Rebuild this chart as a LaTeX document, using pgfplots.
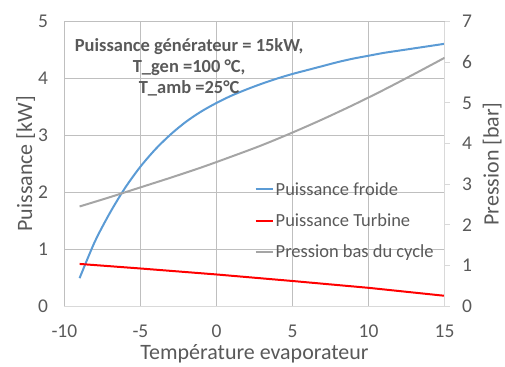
\documentclass[border={13pt 0pt 0pt 12pt}]{standalone}
\usepackage{pgfplots}
\pgfplotsset{compat=1.18}
\usepackage{fontspec}
\setmainfont{Carlito}
\definecolor{txt}{HTML}{595959}
\definecolor{grid}{HTML}{D9D9D9}
\definecolor{cblue}{HTML}{5B9BD5}
\definecolor{cred}{HTML}{FF0000}
\definecolor{cgray}{HTML}{A5A5A5}
\begin{document}
\begin{tikzpicture}
\pgfplotsset{
  common/.style={
    scale only axis, width=381pt, height=285pt,
    xmin=-10, xmax=15,
    tick label style={font=\fontsize{19.5}{19.5}\selectfont, text=txt},
    label style={font=\fontsize{22}{22}\selectfont, text=txt},
    /pgf/number format/assume math mode=true,
  }
}
\begin{axis}[common,
  ymin=0, ymax=5,
  xtick={-10,-5,...,15}, ytick={0,1,...,5},
  grid=major, major grid style={grid, line width=0.8pt},
  axis y line*=left, axis x line*=bottom,
  y axis line style={draw=none},
  x axis line style={grid, line width=0.8pt},
  major tick length=0pt,
  xticklabel style={yshift=-15pt},
  yticklabel style={xshift=-13pt},
  xlabel={Température evaporateur},
  ylabel={Puissance [kW]},
  xlabel style={yshift=0pt},
  ylabel style={yshift=-4pt},
  clip=false,
]
\addplot[cblue, line width=2pt, smooth] coordinates {
(-9,0.49) (-8,1.13) (-7,1.64) (-6,2.08) (-5,2.45) (-4,2.76) (-3,3.02) (-2,3.24) (-1,3.42) (0,3.57)
(1,3.70) (2,3.81) (3,3.91) (4,4.00) (5,4.08) (6,4.15) (7,4.22) (8,4.29) (9,4.35) (10,4.40)
(11,4.45) (12,4.49) (13,4.53) (14,4.57) (15,4.61)};
\addplot[cred, line width=2pt] coordinates {
(-9,0.74) (-5,0.66) (0,0.555) (5,0.44) (10,0.32) (15,0.18)};
\node[font=\bfseries\fontsize{18.5}{21}\selectfont, text=txt, align=center, anchor=north]
  at (axis cs:-1.8,4.77) {Puissance générateur = 15kW,\\T\_gen =100 °C,\\T\_amb =25°C};
\end{axis}
\begin{axis}[common,
  ymin=0, ymax=7, ytick={0,1,...,7},
  axis y line*=right, axis x line=none,
  y axis line style={grid, line width=0.8pt},
  ytick style={grid, line width=0.8pt},
  major tick length=5pt, tick align=outside,
  yticklabel style={xshift=9pt},
  ylabel={Pression [bar]},
  ylabel style={yshift=-4pt},
  legend style={draw=none, fill=none, at={(0.5,0.45)}, anchor=north west,
    font=\fontsize{18.5}{18.5}\selectfont, text=txt, row sep=13pt,
    legend cell align=left, inner xsep=0pt},
  legend image code/.code={\draw[#1, line width=2pt] (0cm,0cm) -- (0.6cm,0cm);},
]
\addlegendimage{cblue}
\addlegendentry{Puissance froide}
\addlegendimage{cred}
\addlegendentry{Puissance Turbine}
\addplot[cgray, line width=2pt, smooth] coordinates {
(-9,2.45) (-7,2.68) (-5,2.92) (-3,3.16) (-1,3.41) (1,3.68) (3,3.96) (5,4.27) (7,4.60) (9,4.95) (11,5.32) (13,5.71) (15,6.11)};
\addlegendentry{Pression bas du cycle}
\end{axis}
\end{tikzpicture}
\end{document}
